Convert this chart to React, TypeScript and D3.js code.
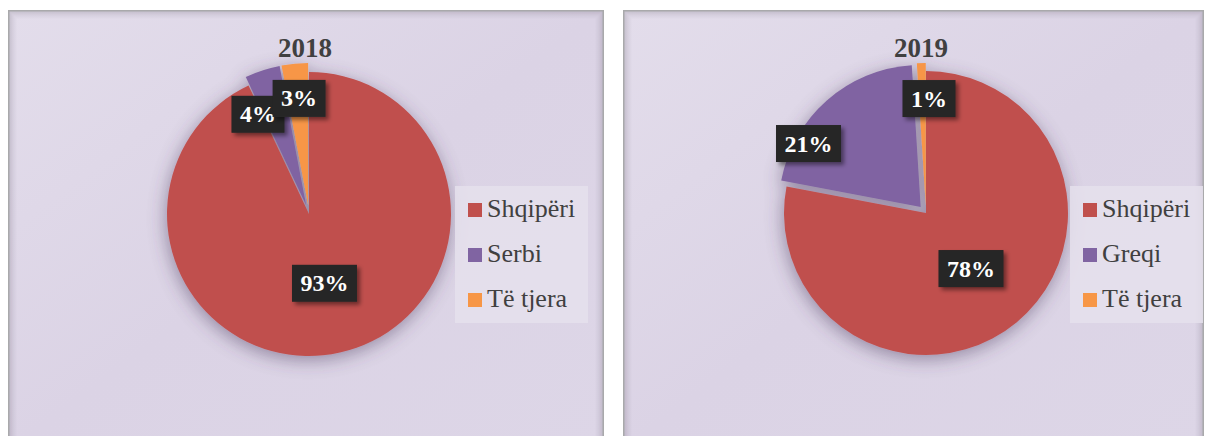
import React, { useEffect, useRef } from "react";
import * as d3 from "d3";

// ---- data ----
const titles = ["2018", "2019"];
const categories2018 = ["Shqipëri", "Serbi", "Të tjera"];
const values2018 = [93, 4, 3];
const categories2019 = ["Shqipëri", "Greqi", "Të tjera"];
const values2019 = [78, 21, 1];
const sliceColors = ["#c0504d", "#8064a2", "#f79646"];

// ---- layout (not data) ----
const W = 1206;
const H = 436;
const SERIF = '"Liberation Serif", "DejaVu Serif", "Times New Roman", serif';
const panels = [
  {
    x: 8, y: 10, w: 596, h: 440,
    cx: 309, cy: 214, r: 142, titleX: 305,
    explode: [0, 9, 9],
    labels: [{ da: 0, r: 71 }, { da: -9.1, r: 112 }, { da: 0.5, r: 116 }],
    legend: { x: 455, y: 186, w: 133, h: 137 },
  },
  {
    x: 623, y: 10, w: 581, h: 440,
    cx: 926, cy: 213, r: 142, titleX: 921,
    explode: [0, 8, 8],
    labels: [{ da: 0.6, r: 71.5 }, { da: -18, r: 136.5 }, { da: 3.3, r: 114.5 }],
    legend: { x: 1070, y: 186, w: 133, h: 137 },
  },
];
const dataSets = [
  { cats: categories2018, vals: values2018 },
  { cats: categories2019, vals: values2019 },
];

export default function App() {
  const ref = useRef<SVGSVGElement | null>(null);

  useEffect(() => {
    const svg = d3.select(ref.current);
    svg.selectAll("*").remove();
    const defs = svg.append("defs");

    const bg = defs.append("linearGradient").attr("id", "bg").attr("x1", 0).attr("y1", 0).attr("x2", 1).attr("y2", 1);
    bg.append("stop").attr("offset", "0%").attr("stop-color", "#e3ddeb");
    bg.append("stop").attr("offset", "50%").attr("stop-color", "#dbd3e5");
    bg.append("stop").attr("offset", "100%").attr("stop-color", "#ddd6e7");

    const ps = defs.append("filter").attr("id", "pieShadow").attr("x", "-30%").attr("y", "-30%").attr("width", "160%").attr("height", "160%");
    ps.append("feGaussianBlur").attr("in", "SourceAlpha").attr("stdDeviation", 9).attr("result", "b");
    ps.append("feOffset").attr("in", "b").attr("dx", -1).attr("dy", 4).attr("result", "o");
    ps.append("feFlood").attr("flood-color", "#4a3a5c").attr("flood-opacity", 0.5);
    ps.append("feComposite").attr("in2", "o").attr("operator", "in").attr("result", "s");
    const m1 = ps.append("feMerge");
    m1.append("feMergeNode").attr("in", "s");
    m1.append("feMergeNode").attr("in", "SourceGraphic");

    const ls = defs.append("filter").attr("id", "lblShadow").attr("x", "-30%").attr("y", "-30%").attr("width", "160%").attr("height", "160%");
    ls.append("feGaussianBlur").attr("in", "SourceAlpha").attr("stdDeviation", 2.2).attr("result", "b");
    ls.append("feOffset").attr("in", "b").attr("dx", 3).attr("dy", 3).attr("result", "o");
    ls.append("feFlood").attr("flood-color", "#000").attr("flood-opacity", 0.45);
    ls.append("feComposite").attr("in2", "o").attr("operator", "in").attr("result", "s");
    const m2 = ls.append("feMerge");
    m2.append("feMergeNode").attr("in", "s");
    m2.append("feMergeNode").attr("in", "SourceGraphic");

    panels.forEach((p, pi) => {
      const ds = dataSets[pi];
      const g = svg.append("g");

      // panel background + border + inner shadow
      g.append("rect").attr("x", p.x).attr("y", p.y).attr("width", p.w).attr("height", p.h).attr("fill", "url(#bg)");
      for (let i = 1; i <= 9; i++) {
        g.append("rect")
          .attr("x", p.x + i).attr("y", p.y + i)
          .attr("width", p.w - 2 * i).attr("height", p.h - 2 * i)
          .attr("fill", "none")
          .attr("stroke", "#3c3448")
          .attr("stroke-opacity", 0.22 * Math.pow(1 - i / 10, 1.6))
          .attr("stroke-width", 1);
      }
      g.append("rect").attr("x", p.x + 0.75).attr("y", p.y + 0.75).attr("width", p.w - 1.5).attr("height", p.h - 1.5)
        .attr("fill", "none").attr("stroke", "#a9a9ab").attr("stroke-width", 1.5);

      // pie
      const pie = d3.pie<number>().sort(null).value((d) => d);
      const arcs = pie(ds.vals);
      const arc = d3.arc<d3.PieArcDatum<number>>().innerRadius(0).outerRadius(p.r);
      const pg = g.append("g").attr("transform", `translate(${p.cx},${p.cy})`).attr("filter", "url(#pieShadow)");
      arcs.forEach((a, i) => {
        const mid = (a.startAngle + a.endAngle) / 2;
        const e = p.explode[i];
        pg.append("path")
          .attr("d", arc(a) as string)
          .attr("transform", `translate(${Math.sin(mid) * e},${-Math.cos(mid) * e})`)
          .attr("fill", sliceColors[i]);
      });

      // title
      g.append("text")
        .attr("x", p.titleX).attr("y", 57)
        .attr("text-anchor", "middle")
        .style("font-family", SERIF)
        .style("font-weight", "bold")
        .style("font-size", "27px")
        .attr("fill", "#404040")
        .text(titles[pi]);

      // labels
      const total = d3.sum(ds.vals);
      arcs.forEach((a, i) => {
        const mid = (a.startAngle + a.endAngle) / 2 + (p.labels[i].da * Math.PI) / 180;
        const lr = p.labels[i].r;
        const lx = p.cx + Math.sin(mid) * lr;
        const ly = p.cy - Math.cos(mid) * lr;
        const lg = g.append("g");
        const rect = lg.append("rect").attr("fill", "#262626").attr("filter", "url(#lblShadow)");
        const t = lg.append("text")
          .attr("x", lx).attr("y", ly + 8)
          .attr("text-anchor", "middle")
          .style("font-family", SERIF)
          .style("font-weight", "bold")
          .style("font-size", "24px")
          .attr("fill", "#ffffff")
          .text(`${Math.round((a.data / total) * 100)}%`);
        const tw = (t.node() as SVGTextElement).getComputedTextLength();
        const bw = tw + 17;
        rect.attr("x", lx - bw / 2).attr("y", ly - 18.5).attr("width", bw).attr("height", 37);
      });

      // legend
      const L = p.legend;
      g.append("rect").attr("x", L.x).attr("y", L.y).attr("width", L.w).attr("height", L.h).attr("fill", "#e5e0ec").attr("fill-opacity", 0.85);
      ds.cats.forEach((c, i) => {
        const yy = L.y + 17 + i * 45;
        g.append("rect").attr("x", L.x + 13).attr("y", yy).attr("width", 14).attr("height", 14).attr("fill", sliceColors[i]);
        g.append("text")
          .attr("x", L.x + 32).attr("y", yy + 14)
          .style("font-family", SERIF)
          .style("font-size", "26px")
          .attr("fill", "#404040")
          .text(c);
      });
    });
  }, []);

  return (
    <svg
      ref={ref}
      width={W}
      height={H}
      style={{ position: "absolute", left: 0, top: 0, background: "#ffffff" }}
    />
  );
}
